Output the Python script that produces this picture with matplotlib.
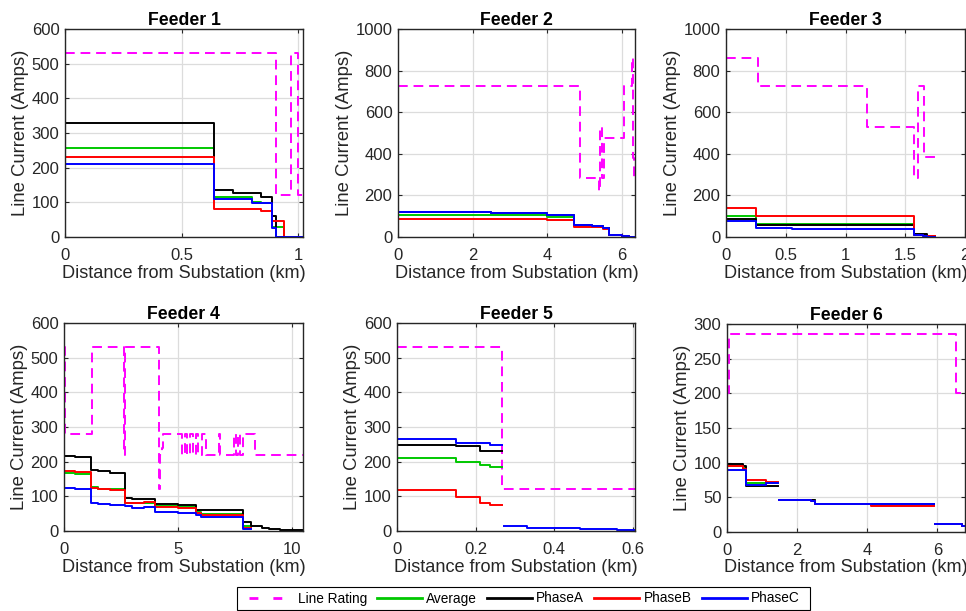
import matplotlib
matplotlib.use("Agg")
import matplotlib.pyplot as plt
import numpy as np
from matplotlib.lines import Line2D
from matplotlib.patches import Rectangle
from matplotlib.ticker import FormatStrFormatter, MultipleLocator

plt.rcParams["font.family"] = ["Liberation Sans", "DejaVu Sans"]

nan = np.nan

# ---- Feeder 1 ----
f1_rating_x = [0, 0.905, 0.97, 1.0, 1.02]
f1_rating_y = [530, 120, 530, 120, 120]
f1_x = [0, 0.64, 0.72, 0.80, 0.84, 0.885, 0.905, 0.94, 1.02]
f1_avg = [258, 115, 115, 102, 97, 30, 30, 0, 0]
f1_a = [330, 135, 128, 128, 115, 60, 0, 0, 0]
f1_b = [232, 80, 80, 80, 75, 45, 45, 0, 0]
f1_c = [212, 110, 110, 97, 97, 25, 0, 0, 0]

# ---- Feeder 2 ----
f2_rating_x = [0, 4.89, 5.39, 5.43, 5.47, 5.53, 6.06, 6.28, 6.31, 6.34, 6.36]
f2_rating_y = [725, 285, 220, 530, 285, 475, 725, 860, 380, 280, 280]
f2_x = [0, 2.5, 4.0, 4.71, 5.2, 5.5, 5.67, 6.0, 6.2, 6.36]
f2_avg = [108, 105, 98, 55, 50, 42, 11, 7, 2, 2]
f2_a = [122, 117, 108, 60, 55, 45, 12, 6, 1, 1]
f2_b = [88, 88, 80, 50, 48, 40, 10, 5, 1, 1]
f2_c = [118, 114, 106, 58, 54, 44, 12, 6, 1, 1]

# ---- Feeder 3 ----
f3_rating_x = [0, 0.27, 1.18, 1.57, 1.61, 1.66, 1.75]
f3_rating_y = [860, 725, 530, 285, 725, 385, 385]
f3_x = [0, 0.25, 0.55, 1.57, 1.65, 1.68, 1.75]
f3_avg = [100, 64, 64, 10, 8, 3, 3]
f3_a = [85, 56, 56, 15, 15, 3, 3]
f3_b = [139, 99, 99, 10, 5, 5, 5]
f3_c = [75, 43, 38, 8, 5, 2, 2]

# ---- Feeder 4 ----
f4_rating_x = [0, 0.05, 1.21, 2.62, 2.68, 4.17, 4.22, 4.30, 4.36, 5.2, 5.3, 5.4,
               5.55, 5.65, 5.8, 5.9, 6.05, 6.26, 6.8, 6.86, 7.45, 7.55, 7.65,
               7.75, 7.85, 8.38, 10.5]
f4_rating_y = [530, 280, 530, 220, 530, 120, 220, 240, 280, 220, 280, 220,
               280, 220, 280, 220, 280, 220, 280, 220, 280, 220, 280,
               220, 280, 220, 220]
f4_x = [0, 0.5, 1.2, 1.5, 2.0, 2.67, 3.0, 3.5, 4.0, 5.0, 5.82, 6.0, 7.86, 8.2,
        8.7, 9.0, 9.5, 10.5]
f4_avg = [168, 165, 127, 122, 120, 82, 80, 82, 72, 68, 56, 50, 15, nan,
          nan, nan, nan, nan]
f4_a = [217, 214, 176, 172, 166, 94, 91, 92, 79, 76, 62, 60, 25, 15,
        8, 5, 3, 3]
f4_b = [172, 170, 124, 121, 118, 81, 80, 84, 70, 66, 52, 47, 10, nan,
        nan, nan, nan, nan]
f4_c = [125, 122, 81, 77, 75, 71, 65, 68, 55, 53, 45, 40, 5, nan,
        nan, nan, nan, nan]

# ---- Feeder 5 ----
f5_rating_x = [0, 0.268, 0.606]
f5_rating_y = [530, 120, 120]
f5_x = [0, 0.151, 0.211, 0.236, 0.268, 0.272, 0.33, 0.40, 0.465, 0.56, 0.606]
f5_avg = [211, 200, 190, 185, nan, nan, nan, nan, nan, nan, nan]
f5_a = [249, 246, 232, 232, nan, nan, nan, nan, nan, nan, nan]
f5_b = [118, 98, 81, 74, nan, nan, nan, nan, nan, nan, nan]
f5_c = [264, 253, 253, 249, nan, 13.5, 10, 9, 6, 2, 2]

# ---- Feeder 6 ----
f6_rating_x = [0, 0.05, 6.54, 6.79]
f6_rating_y = [200, 285, 200, 200]
f6_x = [0, 0.45, 0.55, 1.1, 1.45, 1.49, 2.4, 2.5, 4.1, 5.9, 5.93, 6.5, 6.7, 6.79]
f6_avg = [95, 93, 71, 70, nan, 46, 46, 40, 39, nan, 12, 11, 8, 8]
f6_a = [98, 95, 67, 67, nan, 46, 46, 40, 40, nan, 12, 11, 8, 8]
f6_b = [95, 91, 75, 72, nan, 46, 45, 40, 38, nan, 12, 11, 8, 8]
f6_c = [90, 89, 68, 70, nan, 46, 45, 40, 40, nan, 12, 11, 8, 8]

feeders = [
    ("Feeder 1", f1_rating_x, f1_rating_y, f1_x, f1_avg, f1_a, f1_b, f1_c, 1.02, 0.5, 600, 100),
    ("Feeder 2", f2_rating_x, f2_rating_y, f2_x, f2_avg, f2_a, f2_b, f2_c, 6.36, 2, 1000, 200),
    ("Feeder 3", f3_rating_x, f3_rating_y, f3_x, f3_avg, f3_a, f3_b, f3_c, 2.0, 0.5, 1000, 200),
    ("Feeder 4", f4_rating_x, f4_rating_y, f4_x, f4_avg, f4_a, f4_b, f4_c, 10.5, 5, 600, 100),
    ("Feeder 5", f5_rating_x, f5_rating_y, f5_x, f5_avg, f5_a, f5_b, f5_c, 0.606, 0.2, 600, 100),
    ("Feeder 6", f6_rating_x, f6_rating_y, f6_x, f6_avg, f6_a, f6_b, f6_c, 6.79, 2, 300, 50),
]

# axes boxes in pixels: left, top, right, bottom
boxes = [(65, 29, 303, 237), (398, 29, 635, 237), (726, 29, 965, 237),
         (64, 323, 303, 531), (397, 323, 635, 531), (727, 324, 965, 532)]

W, H = 966, 611
fig = plt.figure(figsize=(W / 100, H / 100), dpi=100)

C_RATE = "#ff00ff"
C_AVG = "#00c800"
C_A = "#000000"
C_B = "#ff0000"
C_C = "#0000ff"
LW = 1.4
grey = "#262626"

for (title, rx, ry, x, avg, a, b, c, xmax, xstep, ymax, ystep), (l, t, r, bt) in zip(feeders, boxes):
    ax = fig.add_axes([l / W, 1 - bt / H, (r - l) / W, (bt - t) / H])
    ax.step(rx, ry, where="post", color=C_RATE, lw=LW, ls=(0, (5, 3)))
    ax.step(x, avg, where="post", color=C_AVG, lw=LW)
    ax.step(x, a, where="post", color=C_A, lw=LW)
    ax.step(x, b, where="post", color=C_B, lw=LW)
    ax.step(x, c, where="post", color=C_C, lw=LW)
    ax.set_xlim(0, xmax)
    ax.set_ylim(0, ymax)
    ax.xaxis.set_major_locator(MultipleLocator(xstep))
    ax.yaxis.set_major_locator(MultipleLocator(ystep))
    ax.xaxis.set_major_formatter(FormatStrFormatter("%g"))
    ax.grid(True, color="#dcdcdc", lw=0.9)
    ax.set_axisbelow(True)
    ax.tick_params(direction="in", length=3, labelsize=12, colors=grey,
                   top=True, right=True, pad=4)
    ax.tick_params(axis="x", pad=8)
    for sp in ax.spines.values():
        sp.set_color(grey)
        sp.set_linewidth(1.0)
    ax.set_title(title, fontsize=12.7, fontweight="bold", pad=3)
    ax.set_xlabel("Distance from Substation (km)", fontsize=13.1, color=grey, labelpad=1)
    ax.set_ylabel("Line Current (Amps)", fontsize=13.3, color=grey, labelpad=2)

handles = [
    Line2D([], [], color=C_RATE, lw=2, ls=(0, (3.2, 5.4))),
    Line2D([], [], color=C_AVG, lw=2),
    Line2D([], [], color=C_A, lw=2),
    Line2D([], [], color=C_B, lw=2),
    Line2D([], [], color=C_C, lw=2),
]
labels = ["Line Rating", "Average", "PhaseA", "PhaseB", "PhaseC"]
fig.legend(handles, labels, loc="center", bbox_to_anchor=(524 / W, 1 - 598.5 / H),
           ncol=5, fontsize=9.8, frameon=False, handlelength=3.3,
           columnspacing=0.75, handletextpad=0.3, borderpad=0.3)
# legend box drawn separately (wider side padding than top/bottom)
fig.patches.append(Rectangle((237 / W, 1 - 610 / H), (810 - 237) / W, 23 / H,
                             transform=fig.transFigure, fill=False,
                             edgecolor="black", lw=0.8))

fig.savefig("out.png", dpi=100)
